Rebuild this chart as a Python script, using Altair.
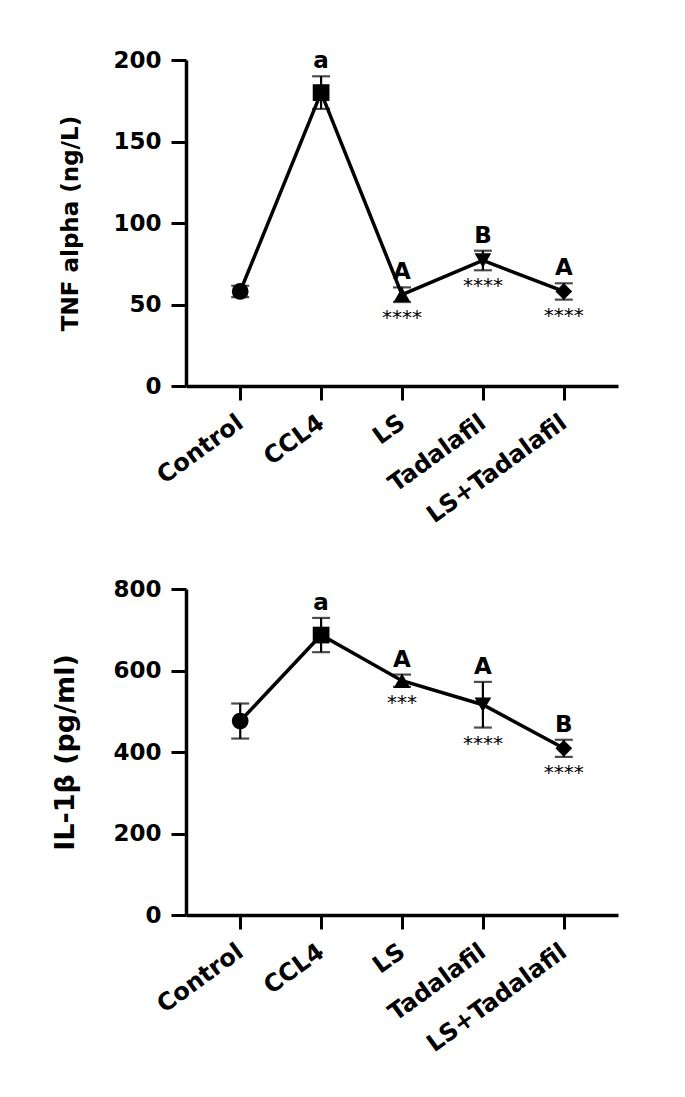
import altair as alt
import pandas as pd

groups = ["Control", "CCL4", "LS", "Tadalafil", "LS+Tadalafil"]
shapes = ["circle", "square", "triangle-up", "triangle-down", "diamond"]

tnf_mean = [58, 180, 56, 77, 58]
tnf_err = [3.5, 10, 4.5, 6, 5]
tnf_letters = ["", "a", "A", "B", "A"]
tnf_stars = ["", "", "****", "****", "****"]

il_mean = [476, 687, 575, 516, 409]
il_err = [43, 42, 15, 56, 21]
il_letters = ["", "a", "A", "A", "B"]
il_stars = ["", "", "***", "****", "****"]

FONT = "DejaVu Sans"


def panel(mean, err, letters, stars, title, ymax, yvals, title_size, title_pad):
    df = pd.DataFrame({
        "group": groups,
        "mean": mean,
        "lo": [m - e for m, e in zip(mean, err)],
        "hi": [m + e for m, e in zip(mean, err)],
        "letter": letters,
        "stars": stars,
    })
    x = alt.X("group:N", sort=groups,
              scale=alt.Scale(type="point", domain=groups, padding=0.67),
              axis=alt.Axis(title=None, labelAngle=-36, labelAlign="right",
                            labelBaseline="middle", labelPadding=20, tickSize=14,
                            labelFontSize=24))
    yscale = alt.Scale(domain=[0, ymax], nice=False)
    base = alt.Chart(df)
    rule = base.mark_rule(color="black", strokeWidth=2.2).encode(
        x=x,
        y=alt.Y("lo:Q", scale=yscale,
                axis=alt.Axis(title=title, values=yvals, titleFontSize=title_size,
                              titlePadding=title_pad)),
        y2="hi:Q")
    cap_lo = base.mark_tick(color="black", thickness=2.2, size=18).encode(x=x, y=alt.Y("lo:Q", scale=yscale))
    cap_hi = base.mark_tick(color="black", thickness=2.2, size=18).encode(x=x, y=alt.Y("hi:Q", scale=yscale))
    line = base.mark_line(color="black", strokeWidth=3.5).encode(x=x, y=alt.Y("mean:Q", scale=yscale))
    pts = base.mark_point(filled=True, color="black", opacity=1, size=280).encode(
        x=x, y=alt.Y("mean:Q", scale=yscale),
        shape=alt.Shape("group:N", scale=alt.Scale(domain=groups, range=shapes), legend=None))
    lett = base.mark_text(font=FONT, fontWeight="bold", fontSize=23, color="black",
                          baseline="middle", dy=-15).encode(
        x=x, y=alt.Y("hi:Q", scale=yscale), text="letter:N")
    st = base.mark_text(font=FONT, fontSize=20, color="black",
                        baseline="middle", dy=16).encode(
        x=x, y=alt.Y("lo:Q", scale=yscale), text="stars:N")
    return alt.layer(rule, cap_lo, cap_hi, line, pts, lett, st).properties(width=432, height=326)


top = panel(tnf_mean, tnf_err, tnf_letters, tnf_stars, "TNF alpha (ng/L)", 200,
            [0, 50, 100, 150, 200], 23, 30)
bottom = panel(il_mean, il_err, il_letters, il_stars, "IL-1β (pg/ml)", 800,
               [0, 200, 400, 600, 800], 27, 33)

chart = alt.vconcat(top, bottom, spacing=50).properties(
    padding={"left": 43, "top": 41, "right": 5, "bottom": 5}
).configure_view(stroke=None).configure_axis(
    domainColor="black", domainWidth=3.5, tickColor="black", tickWidth=3, tickSize=15,
    grid=False, labelFont=FONT, labelFontWeight="bold", labelFontSize=23, labelColor="black",
    labelPadding=10, titleFont=FONT, titleFontWeight="bold", titleColor="black"
)

chart.save("out.html", embed_options={"renderer": "svg", "actions": False})
